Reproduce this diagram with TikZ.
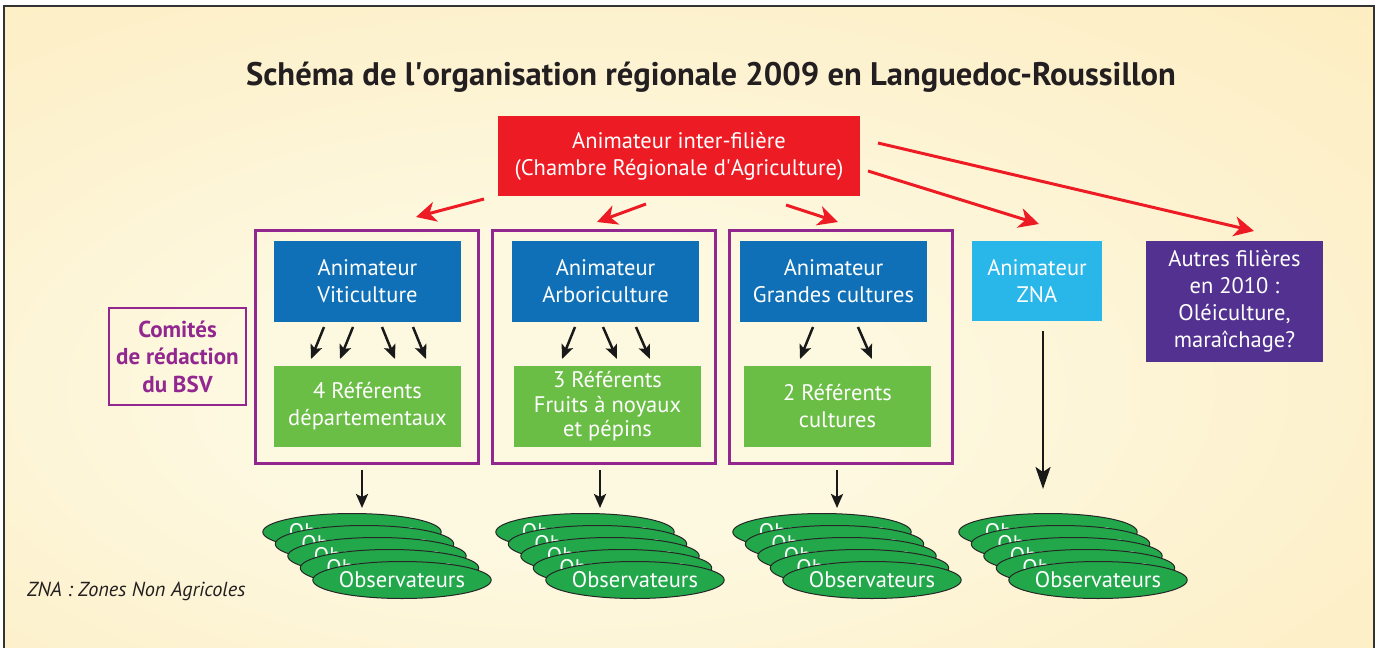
\documentclass[tikz,border=0pt]{standalone}
\usepackage{fontspec}
\setmainfont{PT Sans}
\usetikzlibrary{arrows.meta,shapes.geometric}
\definecolor{bgA}{HTML}{FDF8E0}
\definecolor{bgB}{HTML}{FCE09C}
\definecolor{redbox}{HTML}{ED1C24}
\definecolor{bluebox}{HTML}{0F70B7}
\definecolor{cyanbox}{HTML}{29B6E9}
\definecolor{violetbox}{HTML}{523190}
\definecolor{greenbox}{HTML}{6ABD45}
\definecolor{framepurple}{HTML}{92278F}
\definecolor{ellgreen}{HTML}{22A84A}
\definecolor{titlecol}{HTML}{231F20}
\pgfdeclareradialshading{bgshade}{\pgfpoint{-6bp}{-6bp}}{color(0bp)=(bgA); color(12bp)=(bgA); color(72bp)=(bgB)}
\begin{document}
\begin{tikzpicture}[x=1bp,y=-1bp,
  every node/.style={inner sep=0pt, outer sep=0pt},
  txt/.style={font=\fontsize{22.5bp}{27bp}\selectfont},
  cbox/.style={anchor=north west, align=center, text=white, txt, fill=#1},
  frm/.style={anchor=north west, draw=framepurple, line width=3bp, minimum width=223bp, minimum height=233bp},
  obs/.style={ellipse, draw=black!85, line width=1bp, fill=ellgreen, text=white, txt, minimum width=174bp, minimum height=37bp},
  redarr/.style={draw=redbox, line width=3bp, -{Stealth[length=20bp,width=20bp,inset=6bp]}},
  blkarr/.style={draw=black!90, line width=2.5bp, -{Stealth[length=14bp,width=12bp,inset=3bp]}},
  bigarr/.style={draw=black!90, line width=2.5bp, -{Stealth[length=22bp,width=15bp,inset=5bp]}}]
\useasboundingbox (0,0) rectangle (1378,648);
\fill[white] (0,0) rectangle (1378,648);
\shade[shading=bgshade] (4,6) rectangle (1374,660);
\draw[black!80, line width=1.5bp] (4,700) -- (4,6) -- (1374,6) -- (1374,700);

\node[anchor=base, text=titlecol, font=\fontsize{32.6bp}{38bp}\selectfont\bfseries] (title) at (711,86) {Schéma de l\textquotesingle organisation régionale 2009 en Languedoc-Roussillon};

\node[cbox=redbox, minimum width=362bp, minimum height=80bp] (rb) at (498,116) {Animateur inter-filière\\(Chambre Régionale d\textquotesingle Agriculture)};

\node[frm] (fr1) at (255.5,230.5) {};
\node[frm] (fr2) at (492.5,230.5) {};
\node[frm] (fr3) at (729.5,230.5) {};

\node[cbox=bluebox, minimum width=187bp, minimum height=81bp] (b1) at (274,241) {Animateur\\Viticulture};
\node[cbox=bluebox, minimum width=187bp, minimum height=81bp] (b2) at (512,241) {Animateur\\Arboriculture};
\node[cbox=bluebox, minimum width=187bp, minimum height=81bp] (b3) at (740,241) {Animateur\\Grandes cultures};
\node[cbox=cyanbox, minimum width=130bp, minimum height=80bp] (b4) at (972,241) {Animateur\\ZNA};
\node[cbox=violetbox, minimum width=177bp, minimum height=121bp, font=\fontsize{22.5bp}{27bp}\selectfont] (b5) at (1146,241) {Autres filières\\en 2010 :\\Oléiculture,\\maraîchage?};

\node[cbox=greenbox, minimum width=187bp, minimum height=81bp] (g1) at (274,366) {4 Référents\\départementaux};
\node[cbox=greenbox, minimum width=187bp, minimum height=81bp, font=\fontsize{22.5bp}{24.5bp}\selectfont] (g2) at (514,366) {3 Référents\\Fruits à noyaux\\et pépins};
\node[cbox=greenbox, minimum width=187bp, minimum height=81bp] (g3) at (744,366) {2 Référents\\cultures};

\node[anchor=north west, draw=framepurple, line width=2.5bp, minimum width=137bp, minimum height=97bp, align=center, text=framepurple, font=\fontsize{23bp}{27.5bp}\selectfont\bfseries] (com) at (109,308) {Comités\\de rédaction\\du BSV};

\node[anchor=base west, text=titlecol, font=\fontsize{20.3bp}{22bp}\selectfont\itshape] (zna) at (27,596) {ZNA : Zones Non Agricoles};

% red arrows
\coordinate (r1s) at (484,199); \coordinate (r1e) at (416,217);
\coordinate (r2s) at (646,204); \coordinate (r2e) at (597,222);
\coordinate (r3s) at (786,205); \coordinate (r3e) at (838,222);
\coordinate (r4s) at (868,171); \coordinate (r4e) at (1039,224);
\coordinate (r5s) at (878,143); \coordinate (r5e) at (1254,231);
\foreach \i in {1,...,5} \draw[redarr] (r\i s) -- (r\i e);

% black arrows inside frames
\coordinate (a1s) at (324,327); \coordinate (a1e) at (311,359);
\coordinate (a2s) at (353,327); \coordinate (a2e) at (340,359);
\coordinate (a3s) at (382,327); \coordinate (a3e) at (395,359);
\coordinate (a4s) at (413,327); \coordinate (a4e) at (426,359);
\coordinate (a5s) at (575,327); \coordinate (a5e) at (562,359);
\coordinate (a6s) at (603,327); \coordinate (a6e) at (617,359);
\coordinate (a7s) at (636,327); \coordinate (a7e) at (650,359);
\coordinate (a8s) at (813,327); \coordinate (a8e) at (800,359);
\coordinate (a9s) at (858,327); \coordinate (a9e) at (872,359);
\foreach \i in {1,...,9} \draw[blkarr] (a\i s) -- (a\i e);

% down arrows
\coordinate (d1s) at (362,470); \coordinate (d1e) at (362,508);
\coordinate (d2s) at (600,470); \coordinate (d2e) at (600,508);
\coordinate (d3s) at (837,470); \coordinate (d3e) at (837,508);
\foreach \i in {1,2,3} \draw[blkarr] (d\i s) -- (d\i e);
\coordinate (d4s) at (1043,331); \coordinate (d4e) at (1043,489);
\draw[bigarr] (d4s) -- (d4e);

% observer stacks
\foreach \s/\cx in {1/402,2/635,3/872,4/1098}{
  \foreach \k in {0,...,4}{
    \node[obs] (o\s\k) at ({\cx-50+12.5*\k},{532+12*\k}) {Observateurs};
  }
}
\end{tikzpicture}
\end{document}
